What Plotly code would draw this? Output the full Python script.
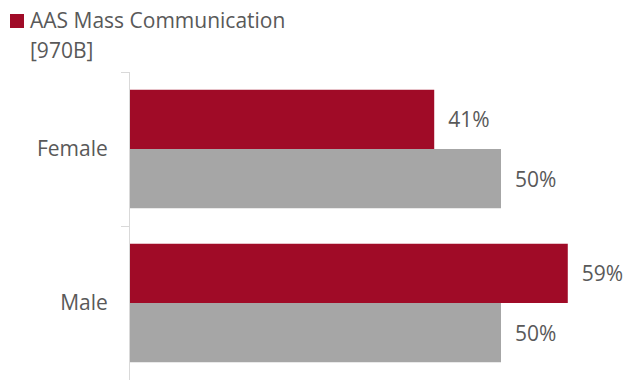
import plotly.graph_objects as go

# Survey breakdown by gender
categories = ["Female", "Male"]
series_names = ["AAS Mass Communication [970B]", "Comparison"]
mass_comm = [41, 59]
comparison = [50, 50]

RED = "#A00B27"
GREY = "#A6A6A6"
TEXT = "#595959"
AXIS = "#D9D9D9"
FONT = "Open Sans"

W, H = 630, 381
ML, MR, MT, MB = 130, 20, 72, 1
PW, PH = W - ML - MR, H - MT - MB


def px_x(px):
    return (px - ML) / PW


def px_y(py):
    return (H - MB - py) / PH


pad = "\u00a0\u00a0"

fig = go.Figure()
fig.add_trace(go.Bar(
    y=categories, x=mass_comm, orientation="h", name=series_names[0],
    marker=dict(color=RED, line=dict(width=0)),
    texttemplate=pad + "%{x}%", textposition="outside",
    textfont=dict(family=FONT, size=21, color=TEXT),
    cliponaxis=False, showlegend=False,
))
fig.add_trace(go.Bar(
    y=categories, x=comparison, orientation="h", name=series_names[1],
    marker=dict(color=GREY, line=dict(width=0)),
    texttemplate=pad + "%{x}%", textposition="outside",
    textfont=dict(family=FONT, size=21, color=TEXT),
    cliponaxis=False, showlegend=False,
))

# Legend key drawn at the top-left corner
fig.add_shape(type="rect", xref="paper", yref="paper",
              x0=px_x(10), x1=px_x(24), y0=px_y(28), y1=px_y(14),
              fillcolor=RED, line=dict(width=0))
legend_lines = ["AAS Mass Communication", "[970B]"]
for i, line in enumerate(legend_lines):
    fig.add_annotation(text=line, xref="paper", yref="paper",
                       x=px_x(28), y=px_y(20 + 30 * i),
                       xanchor="left", yanchor="middle", showarrow=False,
                       font=dict(family=FONT, size=21, color=TEXT))

fig.update_layout(
    width=W, height=H,
    margin=dict(l=ML, r=MR, t=MT, b=MB),
    paper_bgcolor="white", plot_bgcolor="white",
    barmode="group", bargap=0.23, bargroupgap=0,
    font=dict(family=FONT, color=TEXT),
    xaxis=dict(range=[0, PW / 7.42], showgrid=False, zeroline=False,
               showticklabels=False, showline=False, ticks=""),
    yaxis=dict(type="category", autorange="reversed",
               showline=True, linecolor=AXIS, linewidth=1,
               ticks="outside", tickson="boundaries", ticklen=8,
               tickcolor=AXIS, tickwidth=1, ticklabelstandoff=17,
               tickfont=dict(family=FONT, size=21, color=TEXT),
               showgrid=False, zeroline=False),
)

fig.write_html("out.html")
